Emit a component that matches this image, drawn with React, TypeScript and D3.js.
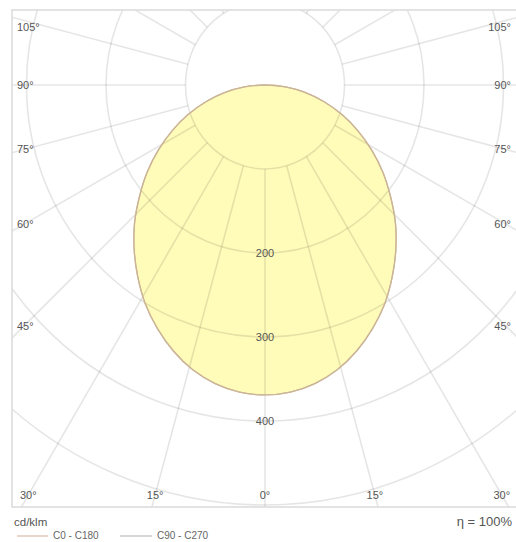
import React from "react";
import * as d3 from "d3";

// gamma angles (deg from nadir) and intensities in cd/klm
const gammaAngles = [0, 5, 10, 15, 20, 25, 30, 35, 40, 45, 50, 55, 60, 65, 70, 75, 80, 85, 90];
const c0c180 = [369, 367, 361, 351, 337, 320, 301, 279, 256, 232, 206, 181, 155, 129, 103, 77, 51, 26, 0];
const c90c270 = [369, 367, 361, 351, 337, 320, 301, 279, 256, 232, 206, 181, 155, 129, 103, 77, 51, 26, 0];

const ringValues = [100, 200, 300, 400, 500, 600];
const ringLabels = [200, 300, 400];
const sideLabelAngles = [105, 90, 75, 60, 45];
const bottomLabelAngles = [-30, -15, 0, 15, 30];
const unitLabel = "cd/klm";
const effLabel = "η = 100%";
const legendNames = ["C0 - C180", "C90 - C270"];

const W = 516;
const H = 542;
const CX = 265;
const CY = 85;
const FRAME = { x: 12, y: 10, w: 508, h: 497 };

export default function App() {
  const rx = d3.scaleLinear().domain([0, 100]).range([0, 79.5]);
  const ry = d3.scaleLinear().domain([0, 100]).range([0, 84]);
  const rad = (deg: number) => (deg * Math.PI) / 180;

  const pt = (deg: number, I: number): [number, number] => [
    CX + rx(I) * Math.sin(rad(deg)),
    CY + ry(I) * Math.cos(rad(deg)),
  ];

  const curvePath = (vals: number[]) => {
    const pts: [number, number][] = [];
    for (let i = gammaAngles.length - 1; i >= 0; i--) pts.push(pt(-gammaAngles[i], vals[i]));
    for (let i = 1; i < gammaAngles.length; i++) pts.push(pt(gammaAngles[i], vals[i]));
    const line = d3.line().curve(d3.curveCatmullRomClosed.alpha(0.5));
    return line(pts.slice(0, pts.length - 1)) || "";
  };

  const radialAngles = d3.range(0, 360, 15);
  const r100x = rx(100);
  const r100y = ry(100);

  const fontFamily = "Liberation Sans, Arial, sans-serif";

  return (
    <svg
      width={W}
      height={H}
      style={{ position: "absolute", left: 0, top: 0, display: "block", background: "#fff" }}
    >
      <defs>
        <clipPath id="frameClip">
          <rect x={FRAME.x} y={FRAME.y} width={FRAME.w} height={FRAME.h} />
        </clipPath>
      </defs>
      <rect x={0} y={0} width={W} height={H} fill="#fff" />
      <path d={curvePath(c0c180)} fill="#FFFBB9" stroke="none" />
      <g clipPath="url(#frameClip)" fill="none" stroke="#000" strokeOpacity={0.1} strokeWidth={1.6}>
        {ringValues.map((v) => (
          <ellipse key={v} cx={CX} cy={CY} rx={rx(v)} ry={ry(v)} />
        ))}
        {radialAngles.map((a) => {
          const s = Math.sin(rad(a));
          const c = Math.cos(rad(a));
          const t0 = 1 / Math.sqrt((s / r100x) ** 2 + (c / r100y) ** 2);
          return (
            <line
              key={a}
              x1={CX + t0 * s}
              y1={CY + t0 * c}
              x2={CX + 900 * s}
              y2={CY + 900 * c}
            />
          );
        })}
      </g>
      <path d={curvePath(c90c270)} fill="none" stroke="#C8C0A8" strokeWidth={1.3} />
      <path d={curvePath(c0c180)} fill="none" stroke="#CDB495" strokeWidth={1.3} />
      <rect
        x={FRAME.x}
        y={FRAME.y}
        width={FRAME.w}
        height={FRAME.h}
        fill="none"
        stroke="#DCDCDC"
        strokeWidth={1.6}
      />
      <g fontFamily={fontFamily} fontSize={11} fill="#555">
        {ringLabels.map((v) => (
          <text key={v} x={CX} y={CY + ry(v)} dy="0.35em" textAnchor="middle">
            {v}
          </text>
        ))}
        {sideLabelAngles.map((a) => {
          const y0 = CY + ((CX - 24) * Math.cos(rad(a))) / Math.sin(rad(a));
          const y = Math.max(y0, 27);
          return (
            <g key={a}>
              <text x={17} y={y} dy="0.35em" textAnchor="start">
                {a}°
              </text>
              <text x={511} y={y} dy="0.35em" textAnchor="end">
                {a}°
              </text>
            </g>
          );
        })}
        {bottomLabelAngles.map((a, i) => {
          const x = CX + (495 - CY) * Math.tan(rad(a));
          return (
            <text key={i} x={x} y={495} dy="0.35em" textAnchor="middle">
              {Math.abs(a)}°
            </text>
          );
        })}
      </g>
      <text x={14} y={526} fontFamily={fontFamily} fontSize={11.5} fill="#555">
        {unitLabel}
      </text>
      <text x={512} y={526} fontFamily={fontFamily} fontSize={13} fill="#555" textAnchor="end">
        {effLabel}
      </text>
      <g fontFamily={fontFamily} fontSize={10} fill="#666">
        <line x1={17} x2={48} y1={536} y2={536} stroke="#D9B9AA" strokeWidth={1.2} />
        <text x={53} y={535} dy="0.35em">
          {legendNames[0]}
        </text>
        <line x1={120} x2={152} y1={536} y2={536} stroke="#BDBDBD" strokeWidth={1.2} />
        <text x={157} y={535} dy="0.35em">
          {legendNames[1]}
        </text>
      </g>
    </svg>
  );
}
